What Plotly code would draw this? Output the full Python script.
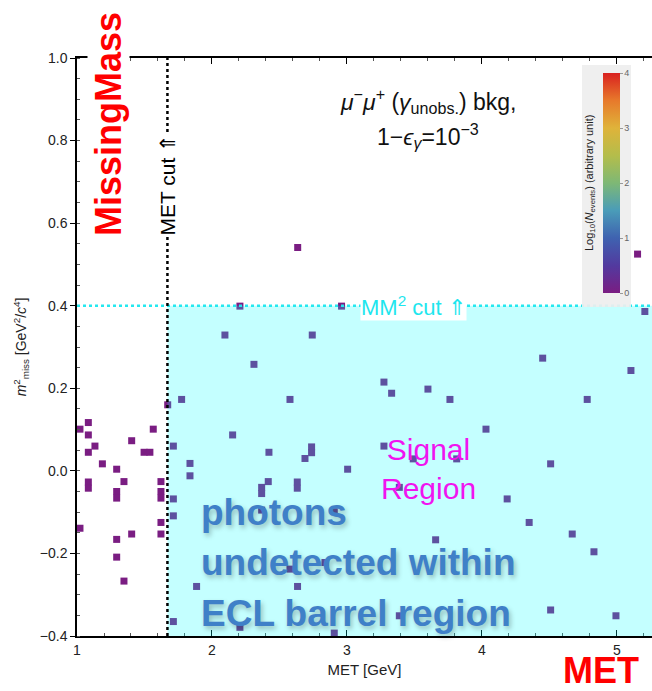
import plotly.graph_objects as go

# ---- data ----
met_gev = [
    1.022, 1.084, 1.084, 1.084, 1.133, 1.188, 1.084, 1.084, 1.022, 1.294,
    1.294, 1.294, 1.294, 1.294, 1.348, 1.348, 1.405, 1.405, 1.497, 1.540,
    1.565, 1.622, 1.622, 1.622, 1.622, 1.622, 1.672,
    1.714, 1.714, 1.714, 1.714, 1.775, 1.837, 1.837, 1.886, 2.207, 2.153,
    2.422, 2.417, 2.368, 2.368, 2.368, 2.578, 2.689, 2.738, 2.738, 2.632,
    2.632, 2.578, 2.634, 2.837, 2.906, 3.005, 2.906, 3.331, 3.600, 3.763,
    4.780, 4.030, 3.274, 3.491, 3.813, 4.509, 3.388, 4.187, 4.350, 4.669,
    4.830, 3.657, 4.509, 4.993, 3.388,
    2.635, 5.153, 2.207, 2.960, 5.207, 2.096, 2.743, 2.311, 4.450, 5.104,
    3.274,
]
mm2_gev2 = [
    0.101, 0.117, 0.087, 0.045, 0.060, 0.017, -0.027, -0.042, -0.139, 0.004,
    -0.050, -0.066, -0.166, -0.209, -0.026, -0.267, 0.073, -0.153, 0.045, 0.045,
    0.101, -0.026, -0.050, -0.066, -0.125, -0.153, 0.160,
    0.060, -0.068, -0.109, -0.365, 0.173, 0.018, -0.012, -0.280, -0.379, 0.087,
    0.045, -0.026, -0.040, -0.055, -0.095, 0.173, 0.030, 0.058, 0.044, -0.027,
    -0.042, -0.238, -0.280, -0.222, -0.393, 0.004, -0.099, 0.188, 0.198, 0.173,
    0.173, 0.101, 0.060, 0.029, 0.029, 0.017, -0.040, -0.068, -0.125, -0.153,
    -0.196, -0.167, -0.337, -0.351, -0.351,
    0.541, 0.525, 0.399, 0.399, 0.386, 0.329, 0.329, 0.258, 0.273, 0.243,
    0.215,
]
log10_nevents = [
    0, 0, 0, 0, 0, 0, 0, 0, 0, 0, 0, 0, 0, 0, 0, 0, 0, 0, 0, 0,
    0, 0, 0, 0, 0, 0, 0,
    0, 0, 0, 0, 0, 0, 0, 0, 0, 0, 0, 0, 0, 0, 0, 0, 0, 0, 0, 0,
    0, 0, 0, 0, 0, 0, 0, 0, 0, 0, 0, 0, 0, 0, 0, 0, 0, 0, 0, 0,
    0, 0, 0, 0, 0,
    0, 0, 0, 0, 0, 0, 0, 0, 0, 0, 0,
]
met_cut = 1.67
mm2_cut = 0.4
x_range = [1.0, 5.26]
y_range = [-0.4, 1.0]
x_ticks = [1, 2, 3, 4, 5]
y_ticks = [-0.4, -0.2, 0.0, 0.2, 0.4, 0.6, 0.8, 1.0]
cbar_ticks = [0, 1, 2, 3, 4]

FONT = "Liberation Sans"

rainbow = [
    [0.0, "#7a1d82"], [0.125, "#523a9f"], [0.25, "#3f62b0"], [0.375, "#4a9cb8"],
    [0.5, "#7eb875"], [0.625, "#b4bd4b"], [0.75, "#dfb33a"], [0.875, "#e7792b"],
    [1.0, "#d92120"],
]

# geometry helpers (paper coords from pixel positions)
W, H = 652, 691
ML, MR, MT, MB = 77, 0, 58, 55
PW, PH = W - ML - MR, H - MT - MB


def px_x(p):
    return (p - ML) / PW


def px_y(p):
    return (H - MB - p) / PH


fig = go.Figure()
fig.add_trace(go.Scatter(
    x=met_gev, y=mm2_gev2, mode="markers",
    marker=dict(
        symbol="square", size=7, color=log10_nevents,
        colorscale=rainbow, cmin=0, cmax=4, line=dict(width=0),
        showscale=True,
        colorbar=dict(
            x=px_x(603), xanchor="left", thickness=17,
            lenmode="pixels", len=220, y=px_y(183), yanchor="middle",
            xpad=0, ypad=0, outlinewidth=0, bgcolor="rgba(0,0,0,0)",
            tickvals=cbar_ticks, ticks="outside", ticklen=3,
            tickcolor="#999", tickfont=dict(family=FONT, size=9, color="#666"),
        ),
    ),
    showlegend=False, hoverinfo="skip",
))

shapes = [
    # signal region overlay (tints points below it)
    dict(type="rect", xref="x", yref="y", x0=met_cut, x1=x_range[1], y0=y_range[0], y1=mm2_cut,
         fillcolor="rgba(0,255,255,0.23)", line=dict(width=0), layer="above"),
    # MM^2 cut line
    dict(type="line", xref="x", yref="y", x0=x_range[0], x1=x_range[1], y0=mm2_cut, y1=mm2_cut,
         line=dict(color="#25e8ef", width=2.5, dash="dot"), layer="above"),
    # MET cut line
    dict(type="line", xref="x", yref="y", x0=met_cut, x1=met_cut, y0=y_range[0], y1=y_range[1],
         line=dict(color="black", width=2.5, dash="dot"), layer="above"),
    # colorbar background box
    dict(type="rect", xref="paper", yref="paper", x0=px_x(582), x1=px_x(631), y0=px_y(307), y1=px_y(65),
         fillcolor="rgba(238,238,238,0.92)", line=dict(width=0), layer="above"),
]

annotations = [
    dict(text="Log<sub>10</sub>(<i>N</i><sub>events</sub>) (arbitrary unit)",
         xref="paper", yref="paper", x=px_x(590), y=px_y(183), textangle=-90,
         showarrow=False, font=dict(family=FONT, size=11, color="#222"),
         xanchor="center", yanchor="middle"),
    dict(text="MissingMass", xref="paper", yref="paper", x=px_x(109), y=px_y(124),
         textangle=-90, showarrow=False, bgcolor="white", borderpad=0,
         font=dict(family=FONT, size=36, color="#ff0000", weight="bold"),
         xanchor="center", yanchor="middle"),
    dict(text="MET", xref="paper", yref="paper", x=px_x(601), y=px_y(670),
         showarrow=False, font=dict(family=FONT, size=36, color="#ff0000", weight="bold"),
         xanchor="center", yanchor="middle"),
    dict(text="MET cut \u21d1", xref="x", yref="paper", x=met_cut, y=px_y(184),
         textangle=-90, showarrow=False, bgcolor="white", borderpad=0,
         font=dict(family=FONT, size=21, color="black"),
         xanchor="center", yanchor="middle"),
    dict(text="MM<sup>2</sup> cut \u21d1", xref="paper", yref="y", x=px_x(413), y=mm2_cut,
         showarrow=False, bgcolor="white", borderpad=0,
         font=dict(family=FONT, size=22, color="#1ee6ee"),
         xanchor="center", yanchor="middle"),
    dict(text="<i>\u03bc</i><sup>\u2212</sup><i>\u03bc</i><sup>+</sup> (<i>\u03b3</i><sub>unobs.</sub>) bkg,",
         xref="paper", yref="paper", x=px_x(428), y=px_y(101),
         showarrow=False, font=dict(family=FONT, size=23, color="#111"),
         xanchor="center", yanchor="middle"),
    dict(text="1\u2212<i>\u03f5</i><sub><i>\u03b3</i></sub>=10<sup>\u22123</sup>",
         xref="paper", yref="paper", x=px_x(428), y=px_y(136),
         showarrow=False, font=dict(family=FONT, size=23, color="#111"),
         xanchor="center", yanchor="middle"),
    dict(text="Signal<br>Region", xref="paper", yref="paper", x=px_x(428), y=px_y(469),
         showarrow=False, font=dict(family=FONT, size=30, color="#f014ef"),
         xanchor="center", yanchor="middle"),
]
blue_lines = ["photons", "undetected within", "ECL barrel region"]
blue_y = [512, 562, 613]
for txt, yy in zip(blue_lines, blue_y):
    annotations.append(dict(
        text=txt, xref="paper", yref="paper", x=px_x(199), y=px_y(yy),
        showarrow=False, xanchor="left", yanchor="middle",
        font=dict(family=FONT, size=37, color="#3f80c8", weight="bold",
                  shadow="2px 3px 5px rgba(0,0,0,0.25)"),
    ))

fig.update_layout(
    width=W, height=H,
    margin=dict(l=ML, r=MR, t=MT, b=MB),
    paper_bgcolor="white", plot_bgcolor="white",
    font=dict(family=FONT, color="#222"),
    shapes=shapes, annotations=annotations,
    xaxis=dict(
        range=x_range, tickvals=x_ticks, showgrid=False, zeroline=False,
        showline=True, linecolor="black", linewidth=1.5, mirror="ticks",
        ticks="inside", ticklen=6, tickcolor="black",
        minor=dict(dtick=0.2, ticks="inside", ticklen=3, tickcolor="#555"),
        tickfont=dict(size=14, color="#222"),
        title=dict(text="MET [GeV]", font=dict(size=15, color="#222"), standoff=8),
    ),
    yaxis=dict(
        range=y_range, tickvals=y_ticks, tickformat=".1f", showgrid=False, zeroline=False,
        showline=True, linecolor="black", linewidth=1.5,
        ticks="outside", ticklen=5, tickcolor="black",
        minor=dict(dtick=0.05, ticks="inside", ticklen=3, tickcolor="#555"),
        tickfont=dict(size=14, color="#222"),
        title=dict(text="<i>m</i><sup>2</sup><sub>miss</sub> [GeV<sup>2</sup>/<i>c</i><sup>4</sup>]",
                   font=dict(size=14, color="#222"), standoff=10),
    ),
)

fig.write_html("out.html")
